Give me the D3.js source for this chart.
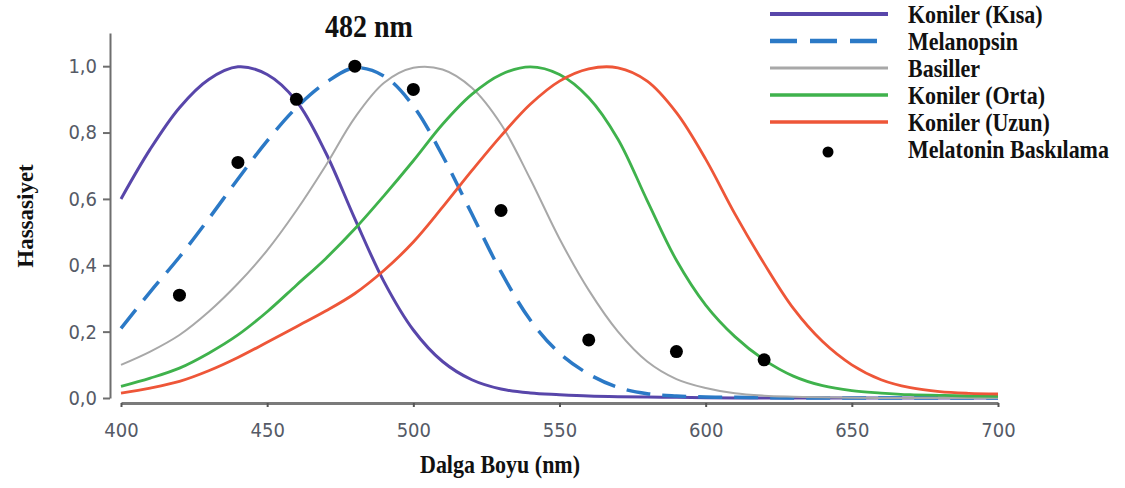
<!DOCTYPE html>
<html>
<head>
<meta charset="utf-8">
<script src="https://cdn.jsdelivr.net/npm/d3@7"></script>
<style>
    body { margin: 0; background: #fff; }
    .tick text { font-family: "Liberation Sans Narrow", "DejaVu Sans Condensed", sans-serif; font-stretch: condensed; fill: #555a66; }
    .lbl { font-family: "Liberation Serif", "Times New Roman", serif; font-weight: bold; fill: #111; }
</style>
</head>
<body>
<svg id="plot"></svg>
<script>
// wavelengths (nm)
const wavelengths = [400, 410, 420, 430, 440, 450, 460, 470, 480, 490, 500, 510, 520, 530, 540, 550,
    560, 570, 580, 590, 600, 610, 620, 630, 640, 650, 660, 670, 680, 690, 700];

// sensitivity curves
const kisa = [0.60, 0.75, 0.875, 0.96, 0.998, 0.975, 0.895, 0.74, 0.54, 0.35, 0.205, 0.11, 0.055, 0.027, 0.015, 0.01,
    0.006, 0.004, 0.003, 0.002, 0.001, 0, 0, 0, 0, 0, 0, 0, 0, 0, 0];
const melanopsin = [0.21, 0.32, 0.425, 0.54, 0.66, 0.775, 0.875, 0.95, 0.995, 0.97, 0.88, 0.73, 0.555, 0.38, 0.235, 0.135,
    0.072, 0.032, 0.013, 0.006, 0.003, 0.002, 0.001, 0, 0, 0, 0, 0, 0, 0, 0];
const basiller = [0.10, 0.14, 0.19, 0.26, 0.345, 0.445, 0.565, 0.70, 0.845, 0.95, 0.995, 0.99, 0.935, 0.825, 0.66, 0.48,
    0.325, 0.20, 0.11, 0.057, 0.03, 0.014, 0.007, 0.004, 0.002, 0.001, 0, 0, 0, 0, 0];
const orta = [0.035, 0.06, 0.09, 0.135, 0.19, 0.26, 0.34, 0.42, 0.51, 0.61, 0.715, 0.825, 0.915, 0.975, 0.998, 0.975,
    0.905, 0.78, 0.595, 0.415, 0.28, 0.185, 0.115, 0.066, 0.037, 0.022, 0.015, 0.01, 0.008, 0.006, 0.005];
const uzun = [0.015, 0.03, 0.05, 0.082, 0.122, 0.168, 0.215, 0.262, 0.315, 0.385, 0.47, 0.575, 0.685, 0.79, 0.885, 0.955,
    0.992, 0.995, 0.955, 0.86, 0.72, 0.555, 0.405, 0.27, 0.17, 0.10, 0.055, 0.031, 0.019, 0.014, 0.012];

// melatonin suppression points
const melatoninNm = [420, 440, 460, 480, 500, 530, 560, 590, 620];
const melatoninVal = [0.31, 0.71, 0.90, 1.00, 0.93, 0.565, 0.175, 0.14, 0.115];

const xTicks = [400, 450, 500, 550, 600, 650, 700];
const yTicks = [0, 0.2, 0.4, 0.6, 0.8, 1.0];

const seriesNames = ["Koniler (Kısa)", "Melanopsin", "Basiller", "Koniler (Orta)", "Koniler (Uzun)"];
const seriesData = [kisa, melanopsin, basiller, orta, uzun];
const seriesColors = ["#5846aa", "#2b79c6", "#a8a8a8", "#3fb24c", "#ee5638"];
const seriesWidths = [3, 3.5, 2, 2.8, 2.8];
const seriesDash = [null, "24,12", null, null, null];

// init setting
const svg = d3.select("#plot")
    .attr("width", 1125)
    .attr("height", 488);

// scales
const xScale = d3.scaleLinear().domain([400, 700]).range([121, 998]);
const yScale = d3.scaleLinear().domain([0, 1.1]).range([398, 33]);

// y-axis (detached to the left)
const yAxis = d3.axisLeft(yScale)
    .tickValues(yTicks)
    .tickSize(7)
    .tickSizeOuter(0)
    .tickPadding(6)
    .tickFormat(d => d3.format(".1f")(d).replace(".", ","));
const gy = svg.append("g")
    .attr("transform", "translate(110, 0)")
    .call(yAxis);
gy.selectAll("path, line").attr("stroke", "#6e6e6e").attr("stroke-width", 2);
gy.selectAll("text").style("font-size", "20px");

// x-axis
const xAxis = d3.axisBottom(xScale)
    .tickValues(xTicks)
    .tickSize(4)
    .tickSizeOuter(0)
    .tickPadding(16);
const gx = svg.append("g")
    .attr("transform", "translate(0, 403)")
    .call(xAxis);
gx.select("path").attr("stroke", "#7a7a7a").attr("stroke-width", 3);
gx.selectAll("line").attr("stroke", "#555").attr("stroke-width", 2);
gx.selectAll("text").style("font-size", "20px");

// curves
const line = d3.line()
    .x((d, i) => xScale(wavelengths[i]))
    .y(d => yScale(d))
    .curve(d3.curveCatmullRom.alpha(0.5));

seriesData.forEach((vals, k) => {
    svg.append("path")
        .datum(vals)
        .attr("fill", "none")
        .attr("stroke", seriesColors[k])
        .attr("stroke-width", seriesWidths[k])
        .attr("stroke-dasharray", seriesDash[k])
        .attr("d", line);
});

// melatonin dots
svg.selectAll(".dot")
    .data(melatoninNm)
    .enter().append("circle")
    .attr("class", "dot")
    .attr("cx", d => xScale(d))
    .attr("cy", (d, i) => yScale(melatoninVal[i]))
    .attr("r", 6.5)
    .attr("fill", "#000");

// title
svg.append("text")
    .attr("class", "lbl")
    .attr("transform", "translate(325, 37) scale(1, 1.1)")
    .style("font-size", "28px")
    .text("482 nm");

// axis labels
svg.append("text")
    .attr("class", "lbl")
    .attr("transform", "translate(500, 473) scale(1, 1.1)")
    .style("text-anchor", "middle")
    .style("font-size", "22px")
    .text("Dalga Boyu (nm)");

svg.append("text")
    .attr("class", "lbl")
    .attr("transform", "translate(33, 216) rotate(-90)")
    .style("text-anchor", "middle")
    .style("font-size", "23px")
    .text("Hassasiyet");

// legend
const legend = svg.append("g");
const rowH = 27;
seriesNames.forEach((name, k) => {
    const by = 23 + k * rowH;
    legend.append("line")
        .attr("x1", 770).attr("x2", 888)
        .attr("y1", by - 9).attr("y2", by - 9)
        .attr("stroke", seriesColors[k])
        .attr("stroke-width", seriesWidths[k] + 0.8)
        .attr("stroke-dasharray", k === 1 ? "27,13" : null);
    legend.append("text")
        .attr("class", "lbl")
        .attr("transform", `translate(908, ${by}) scale(1, 1.1)`)
        .style("font-size", "22px")
        .text(name);
});
const byDot = 23 + 5 * rowH;
legend.append("circle")
    .attr("cx", 828)
    .attr("cy", byDot - 6)
    .attr("r", 5.5)
    .attr("fill", "#000");
legend.append("text")
    .attr("class", "lbl")
    .attr("transform", `translate(908, ${byDot}) scale(1, 1.1)`)
    .style("font-size", "22px")
    .text("Melatonin Baskılama");
</script>
</body>
</html>
